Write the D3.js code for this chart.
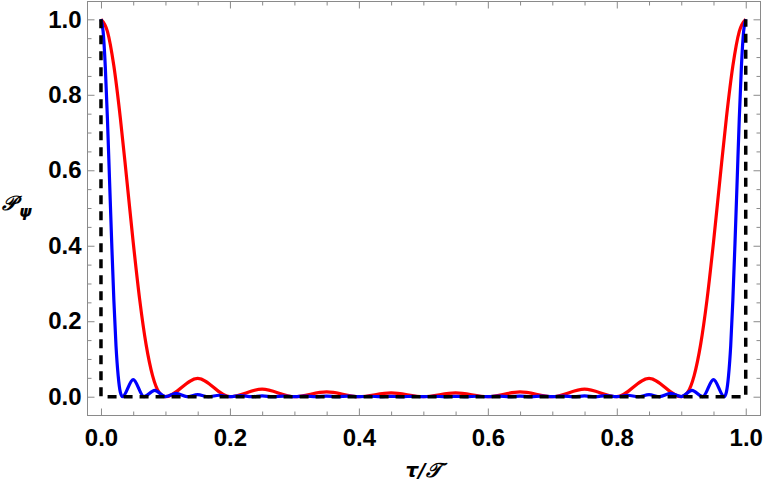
<!DOCTYPE html>
<html>
<head>
<meta charset="utf-8">
<script src="https://cdn.jsdelivr.net/npm/d3@7"></script>
<style>
  html, body { margin: 0; padding: 0; background: #fff; }
  svg { display: block; }
</style>
</head>
<body>
<script>
// ---- data ----
const xTickValues = [0, 0.2, 0.4, 0.6, 0.8, 1.0];
const xTickLabels = ["0.0", "0.2", "0.4", "0.6", "0.8", "1.0"];
const yTickValues = [0, 0.2, 0.4, 0.6, 0.8, 1.0];
const yTickLabels = ["0.0", "0.2", "0.4", "0.6", "0.8", "1.0"];
const minorTickValues = [0.05, 0.1, 0.15, 0.25, 0.3, 0.35, 0.45, 0.5, 0.55, 0.65, 0.7, 0.75, 0.85, 0.9, 0.95];

// red curve: [tau/T, P]
const redSeries = [
  [0, 1], [0.01, 0.968], [0.02, 0.876], [0.03, 0.739], [0.04, 0.576], [0.05, 0.409],
  [0.06, 0.258], [0.07, 0.138], [0.08, 0.056], [0.09, 0.012], [0.10, 0],
  [0.15, 0.0485], [0.20, 0], [0.25, 0.020], [0.30, 0], [0.35, 0.0126], [0.40, 0],
  [0.45, 0.0102], [0.50, 0], [0.55, 0.0102], [0.60, 0], [0.65, 0.0126], [0.70, 0],
  [0.75, 0.020], [0.80, 0], [0.85, 0.0485], [0.90, 0],
  [0.91, 0.012], [0.92, 0.056], [0.93, 0.138], [0.94, 0.258], [0.95, 0.409],
  [0.96, 0.576], [0.97, 0.739], [0.98, 0.876], [0.99, 0.968], [1.0, 1]
];

// blue curve: [tau/T, P]
const blueSeries = [
  [0, 1], [0.0033, 0.968], [0.0067, 0.875], [0.01, 0.737], [0.0133, 0.573], [0.0167, 0.405],
  [0.02, 0.255], [0.0233, 0.135], [0.0267, 0.055], [0.03, 0.012], [0.0333, 0],
  [0.05, 0.045], [0.0667, 0], [0.0833, 0.0166], [0.1, 0], [0.1167, 0.0087], [0.1333, 0],
  [0.15, 0.0054], [0.1667, 0], [0.1833, 0.0038], [0.2, 0], [0.2167, 0.0028], [0.2333, 0],
  [0.25, 0.0022], [0.2667, 0], [0.2833, 0.0018], [0.3, 0], [0.3167, 0.0016], [0.3333, 0],
  [0.35, 0.0014], [0.3667, 0], [0.3833, 0.0013], [0.4, 0], [0.4167, 0.0012], [0.4333, 0],
  [0.45, 0.0011], [0.4667, 0], [0.4833, 0.0011], [0.5, 0], [0.5167, 0.0011], [0.5333, 0],
  [0.55, 0.0011], [0.5667, 0], [0.5833, 0.0012], [0.6, 0], [0.6167, 0.0013], [0.6333, 0],
  [0.65, 0.0014], [0.6667, 0], [0.6833, 0.0016], [0.7, 0], [0.7167, 0.0018], [0.7333, 0],
  [0.75, 0.0022], [0.7667, 0], [0.7833, 0.0028], [0.8, 0], [0.8167, 0.0038], [0.8333, 0],
  [0.85, 0.0054], [0.8667, 0], [0.8833, 0.0087], [0.9, 0], [0.9167, 0.0166], [0.9333, 0],
  [0.95, 0.045], [0.9667, 0],
  [0.97, 0.012], [0.9733, 0.055], [0.9767, 0.135], [0.98, 0.255], [0.9833, 0.405],
  [0.9867, 0.573], [0.99, 0.737], [0.9933, 0.875], [0.9967, 0.968], [1.0, 1]
];

// black dashed limit curve
const blackSeries = [[0, 1], [0, 0], [1, 0], [1, 1]];

// ---- drawing ----
const W = 764, H = 492;
const frame = { left: 87.5, right: 760.5, top: 1.5, bottom: 415.5 };

const x = d3.scaleLinear().domain([-0.0209, 1.0229]).range([frame.left, frame.right]);
const y = d3.scaleLinear().domain([-0.0498, 1.0472]).range([frame.bottom, frame.top]);

const svg = d3.select("body").append("svg").attr("width", W).attr("height", H);

const frameColor = "#8a8a8a";
const tickFont = "'Liberation Sans', Arial, sans-serif";

function styleAxis(g) {
  g.select(".domain").remove();
  g.selectAll(".tick line").attr("stroke", frameColor).attr("stroke-width", 1);
  g.selectAll(".tick text")
    .attr("fill", "#000")
    .attr("font-family", tickFont)
    .attr("font-weight", "bold")
    .attr("font-size", 24);
}

// bottom axis
svg.append("g").attr("transform", `translate(0,${frame.bottom})`)
  .call(d3.axisBottom(x).tickValues(xTickValues).tickSizeInner(-7).tickSizeOuter(0)
    .tickPadding(13).tickFormat((d, i) => xTickLabels[i]))
  .call(styleAxis);
svg.append("g").attr("transform", `translate(0,${frame.bottom})`)
  .call(d3.axisBottom(x).tickValues(minorTickValues).tickSizeInner(-4).tickSizeOuter(0).tickFormat(""))
  .call(styleAxis);
// top axis
svg.append("g").attr("transform", `translate(0,${frame.top})`)
  .call(d3.axisTop(x).tickValues(xTickValues).tickSizeInner(-7).tickSizeOuter(0).tickFormat(""))
  .call(styleAxis);
svg.append("g").attr("transform", `translate(0,${frame.top})`)
  .call(d3.axisTop(x).tickValues(minorTickValues).tickSizeInner(-4).tickSizeOuter(0).tickFormat(""))
  .call(styleAxis);
// left axis
svg.append("g").attr("transform", `translate(${frame.left},0)`)
  .call(d3.axisLeft(y).tickValues(yTickValues).tickSizeInner(-7).tickSizeOuter(0)
    .tickPadding(6).tickFormat((d, i) => yTickLabels[i]))
  .call(styleAxis);
svg.append("g").attr("transform", `translate(${frame.left},0)`)
  .call(d3.axisLeft(y).tickValues(minorTickValues).tickSizeInner(-4).tickSizeOuter(0).tickFormat(""))
  .call(styleAxis);
// right axis
svg.append("g").attr("transform", `translate(${frame.right},0)`)
  .call(d3.axisRight(y).tickValues(yTickValues).tickSizeInner(-7).tickSizeOuter(0).tickFormat(""))
  .call(styleAxis);
svg.append("g").attr("transform", `translate(${frame.right},0)`)
  .call(d3.axisRight(y).tickValues(minorTickValues).tickSizeInner(-4).tickSizeOuter(0).tickFormat(""))
  .call(styleAxis);

// frame
svg.append("rect")
  .attr("x", frame.left).attr("y", frame.top)
  .attr("width", frame.right - frame.left).attr("height", frame.bottom - frame.top)
  .attr("fill", "none").attr("stroke", frameColor).attr("stroke-width", 1);

// curves
const smooth = d3.line().x(d => x(d[0])).y(d => y(d[1])).curve(d3.curveMonotoneX);
const straight = d3.line().x(d => x(d[0])).y(d => y(d[1]));

svg.append("path").datum(redSeries).attr("d", smooth)
  .attr("fill", "none").attr("stroke", "#ff0000").attr("stroke-width", 3.2)
  .attr("stroke-linejoin", "round");
svg.append("path").datum(blueSeries).attr("d", smooth)
  .attr("fill", "none").attr("stroke", "#0000ff").attr("stroke-width", 3.2)
  .attr("stroke-linejoin", "round");
svg.append("path").datum(blackSeries).attr("d", straight)
  .attr("fill", "none").attr("stroke", "#000").attr("stroke-width", 3.5)
  .attr("stroke-dasharray", "9,7");

// axis labels
const yl = svg.append("text")
  .attr("x", 2).attr("y", 210)
  .attr("font-family", "'DejaVu Sans', 'Liberation Serif', serif")
  .attr("font-style", "italic").attr("font-weight", "bold")
  .attr("font-size", 20).attr("fill", "#000");
yl.append("tspan").text("𝒫");
yl.append("tspan").attr("dx", 3).attr("dy", 7).attr("font-size", 16).text("ψ");

svg.append("text")
  .attr("x", 423).attr("y", 477)
  .attr("text-anchor", "middle")
  .attr("font-family", "'DejaVu Sans', 'Liberation Serif', serif")
  .attr("font-style", "italic").attr("font-weight", "bold")
  .attr("font-size", 20).attr("fill", "#000")
  .text("τ/𝒯");
</script>
</body>
</html>
